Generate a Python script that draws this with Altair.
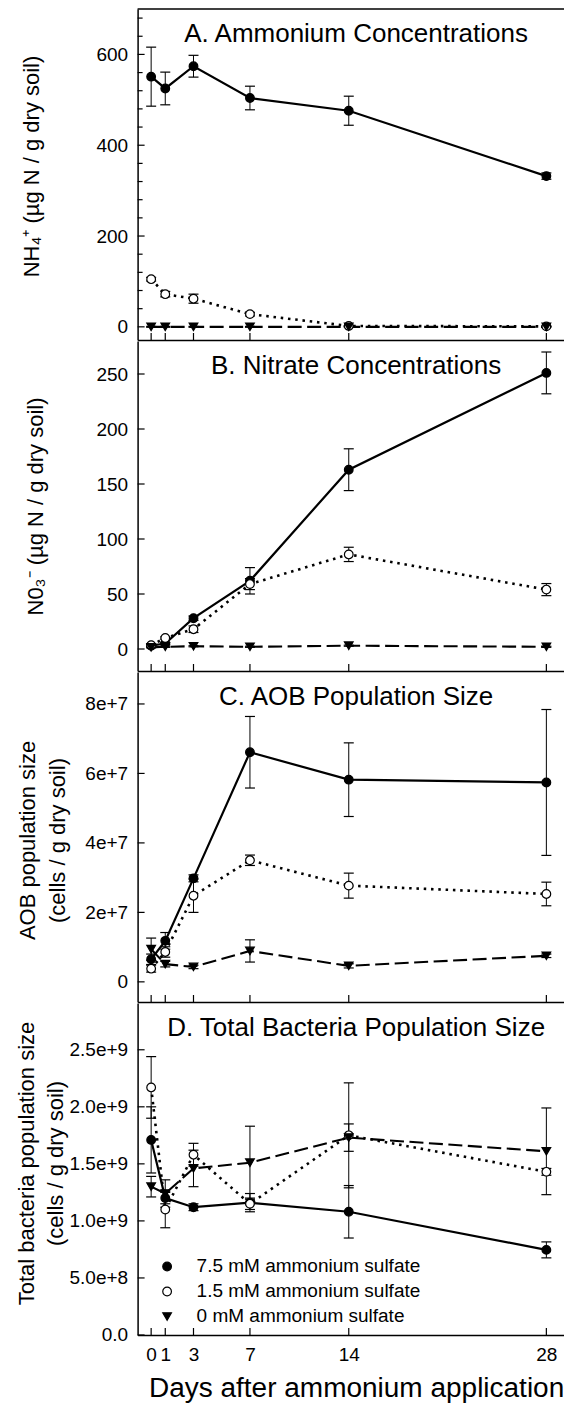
import altair as alt
import pandas as pd

# ---------------- data ----------------
days = [0, 1, 3, 7, 14, 28]
series = ["7.5 mM ammonium sulfate", "1.5 mM ammonium sulfate", "0 mM ammonium sulfate"]

# A. Ammonium (ug N / g dry soil)
nh4_75 = [551, 525, 574, 504, 476, 332]
nh4_75_err = [65, 36, 24, 26, 32, 7]
nh4_15 = [105, 72, 62, 28, 2, 1]
nh4_15_err = [4, 6, 10, 4, 1, 1]
nh4_0 = [0, 0, 0, 0, 0, 0]
nh4_0_err = [1, 1, 1, 1, 1, 1]

# B. Nitrate (ug N / g dry soil)
no3_75 = [3, 5, 28, 62, 163, 251]
no3_75_err = [1, 1, 2, 12, 19, 19]
no3_15 = [3.5, 10, 18, 59, 86, 54]
no3_15_err = [1, 1, 3, 5, 6.5, 5.5]
no3_0 = [1.5, 2, 2.5, 2, 3, 2]
no3_0_err = [0.5, 0.5, 0.5, 0.5, 0.5, 0.5]

# C. AOB population size (cells / g dry soil)
aob_75 = [6.5e6, 1.18e7, 2.98e7, 6.61e7, 5.82e7, 5.74e7]
aob_75_err = [1.5e6, 2.4e6, 1.0e6, 1.03e7, 1.06e7, 2.1e7]
aob_15 = [3.8e6, 8.6e6, 2.48e7, 3.5e7, 2.77e7, 2.53e7]
aob_15_err = [1.0e6, 1.5e6, 4.8e6, 1.5e6, 3.6e6, 3.4e6]
aob_0 = [9.4e6, 5.1e6, 4.3e6, 8.9e6, 4.6e6, 7.5e6]
aob_0_err = [3.2e6, 0.8e6, 0.5e6, 3.2e6, 0.6e6, 0.5e6]

# D. Total bacteria population size (cells / g dry soil)
tot_75 = [1.71e9, 1.20e9, 1.12e9, 1.16e9, 1.08e9, 0.746e9]
tot_75_err = [0.29e9, 0.05e9, 0.03e9, 0.08e9, 0.23e9, 0.07e9]
tot_15 = [2.17e9, 1.10e9, 1.58e9, 1.15e9, 1.75e9, 1.43e9]
tot_15_err = [0.27e9, 0.16e9, 0.10e9, 0.05e9, 0.46e9, 0.03e9]
tot_0 = [1.30e9, 1.24e9, 1.46e9, 1.51e9, 1.73e9, 1.61e9]
tot_0_err = [0.09e9, 0.12e9, 0.16e9, 0.32e9, 0.12e9, 0.38e9]

panel_titles = ["A. Ammonium Concentrations", "B. Nitrate Concentrations",
                "C. AOB Population Size", "D. Total Bacteria Population Size"]
y_titles = ["NH\u2084\u207a (\u00b5g N / g dry soil)",
            "N0\u2083\u207b (\u00b5g N / g dry soil)",
            ["AOB population size", "(cells / g dry soil)"],
            ["Total bacteria population size", "(cells / g dry soil)"]]
x_title = "Days after ammonium application"

a_ticks = [0, 200, 400, 600]
a_minor = [40, 80, 120, 160, 240, 280, 320, 360, 440, 480, 520, 560, 640, 680]
b_ticks = [0, 50, 100, 150, 200, 250]
c_ticks = [0, 2e7, 4e7, 6e7, 8e7]
d_ticks = [0, 5e8, 1e9, 1.5e9, 2e9, 2.5e9]

# ---------------- styling ----------------
FONT = "Liberation Sans"
W = 437
XDOM = [-0.96, 30]
TICK_FS = 19
line_styles = [dict(strokeWidth=2.2),
               dict(strokeWidth=2.6, strokeDash=[2.5, 4.8]),
               dict(strokeWidth=2.1, strokeDash=[14, 5.5])]


def build(vals, errs, title, ytitle, ydom, yvals, H, title_x, title_y=None,
          minor=None, label_expr=None, last=False, top_rule=False):
    rows = []
    for s, v, e in zip(series, vals, errs):
        for d, vi, ei in zip(days, v, e):
            rows.append({"day": d, "series": s, "value": vi,
                         "lo": vi - ei, "hi": vi + ei})
    df = pd.DataFrame(rows)
    xs = alt.Scale(domain=XDOM, nice=False, zero=False)
    ys = alt.Scale(domain=ydom, nice=False, zero=False)

    xkw = dict(values=days, ticks=False, tickSize=0, domain=True,
               domainColor="black", domainWidth=1.5, grid=False,
               labels=last, labelOverlap=False, labelFlush=False)
    if last:
        xkw.update(title=x_title, titleFont=FONT, titleFontSize=28,
                   titleFontWeight="normal", titleColor="black", titleY=62,
                   titleBaseline="alphabetic", labelFont=FONT,
                   labelFontSize=TICK_FS, labelColor="black", labelPadding=11)
    else:
        xkw.update(title=None)
    xaxis = alt.Axis(**xkw)

    ykw = dict(values=yvals, ticks=False, tickSize=0, domain=True,
               domainColor="black", domainWidth=1.5, grid=False,
               labelFont=FONT, labelFontSize=TICK_FS, labelColor="black",
               labelPadding=10, title=ytitle, titleFont=FONT,
               titleFontSize=22, titleFontWeight="normal", titleColor="black",
               titleX=title_x, titleBaseline="middle", titleLineHeight=29.5)
    if title_y is not None:
        ykw["titleY"] = title_y
    if label_expr:
        ykw["labelExpr"] = label_expr
    yaxis = alt.Axis(**ykw)

    def X(field):
        return alt.X(field + ":Q", scale=xs, axis=xaxis)

    def Y(field):
        return alt.Y(field + ":Q", scale=ys, axis=yaxis)

    base = alt.Chart(df)
    layers = []
    for i, s in enumerate(series):
        layers.append(base.transform_filter(alt.datum.series == s)
                      .mark_line(color="black", strokeCap="butt", **line_styles[i])
                      .encode(x=X("day"), y=Y("value")))
    layers.append(base.mark_rule(color="black", strokeWidth=1).encode(
        x=X("day"), y=Y("lo"), y2="hi:Q"))
    for f in ["lo", "hi"]:
        layers.append(base.mark_tick(color="black", orient="horizontal", size=10,
                                     thickness=1.2, opacity=1).encode(
            x=X("day"), y=Y(f)))

    if last:
        leg = alt.Legend(title=None, orient="none", legendX=20, legendY=254,
                         padding=0, labelFont=FONT, labelFontSize=19,
                         labelColor="black", labelLimit=0,
                         symbolStrokeColor="black",
                         symbolStrokeWidth=1.2, symbolSize=75, rowPadding=5,
                         labelOffset=20)
    else:
        leg = None
    layers.append(base.mark_point(strokeWidth=1.2, size=75, opacity=1).encode(
        x=X("day"), y=Y("value"),
        shape=alt.Shape("series:N", scale=alt.Scale(
            domain=series, range=["circle", "circle", "triangle-down"]), legend=leg),
        fill=alt.Fill("series:N", scale=alt.Scale(
            domain=series, range=["black", "white", "black"]), legend=leg),
        stroke=alt.Stroke("series:N", scale=alt.Scale(
            domain=series, range=["black", "black", "black"]), legend=leg)))

    # inward ticks on y axis
    def yt(vs, length, right=False):
        d = pd.DataFrame({"v": vs})
        if right:
            xx, xx2 = alt.value(W - length), alt.value(W)
        else:
            xx, xx2 = alt.value(0), alt.value(length)
        return alt.Chart(d).mark_rule(color="black", strokeWidth=1.2).encode(
            y=Y("v"), x=xx, x2=xx2)

    layers.append(yt(yvals, 7))
    if minor:
        layers.append(yt(minor, 5))
        layers.append(yt(minor, 5, right=True))
    # inward ticks on x axis
    layers.append(alt.Chart(pd.DataFrame({"d": days})).mark_rule(
        color="black", strokeWidth=1.2).encode(
        x=X("d"), y=alt.value(H - 7), y2=alt.value(H)))
    if top_rule:
        layers.append(alt.Chart(pd.DataFrame({"a": [0]})).mark_rule(
            color="black", strokeWidth=1.5).encode(
            x=alt.value(0), x2=alt.value(W), y=alt.value(0)))
    layers.append(alt.Chart(pd.DataFrame({"t": [title]})).mark_text(
        font=FONT, fontSize=26, color="black", align="center",
        baseline="alphabetic").encode(text="t:N", x=alt.value(W / 2), y=alt.value(33)))
    return alt.layer(*layers).properties(width=W, height=H)


pA = build([nh4_75, nh4_15, nh4_0], [nh4_75_err, nh4_15_err, nh4_0_err],
           panel_titles[0], y_titles[0], [-29, 700], a_ticks, 331, -105.7,
           title_y=157, minor=a_minor, top_rule=True)
pB = build([no3_75, no3_15, no3_0], [no3_75_err, no3_15_err, no3_0_err],
           panel_titles[1], y_titles[1], [-20, 280], b_ticks, 330, -101.7)
pC = build([aob_75, aob_15, aob_0], [aob_75_err, aob_15_err, aob_0_err],
           panel_titles[2], y_titles[2], [-5.8e6, 8.92e7], c_ticks, 330, -109.7,
           title_y=168,
           label_expr="datum.value == 0 ? '0' : format(datum.value / 1e7, 'd') + 'e+7'")
pD = build([tot_75, tot_15, tot_0], [tot_75_err, tot_15_err, tot_0_err],
           panel_titles[3], y_titles[3], [0, 2.91e9], d_ticks, 332, -111.1,
           title_y=160,
           label_expr="datum.value == 0 ? '0.0' : (datum.value < 1e9 ? format(datum.value / 1e8, '.1f') + 'e+8' : format(datum.value / 1e9, '.1f') + 'e+9')",
           last=True)

chart = (alt.vconcat(pA, pB, pC, pD, spacing=0)
         .resolve_scale(shape="independent", fill="independent", stroke="independent")
         .properties(padding={"left": 6.6, "top": 0, "right": -12, "bottom": 0},
                     background="white")
         .configure_view(stroke=None))

chart.save("out.html", embed_options={"renderer": "svg", "actions": False})
